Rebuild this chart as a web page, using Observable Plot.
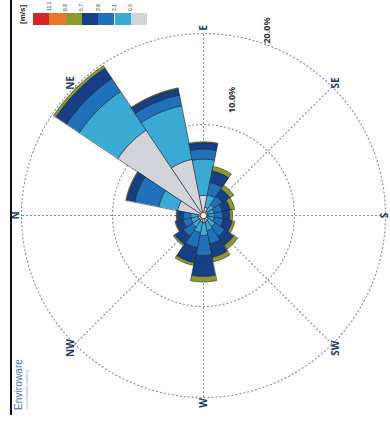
<!DOCTYPE html>
<html>
<head>
<meta charset="utf-8">
<script src="https://cdn.jsdelivr.net/npm/d3@7"></script>
<script src="https://cdn.jsdelivr.net/npm/@observablehq/plot@0.6"></script>
<style>
  html, body { margin: 0; padding: 0; background: #fff; }
  #screen { position: relative; width: 390px; height: 422px; overflow: hidden; background: #fff; }
  /* the sheet is laid out landscape and turned a quarter turn */
  #page {
    position: absolute; left: 0; top: 0; width: 422px; height: 390px;
    transform-origin: 0 0; transform: translate(0px, 422px) rotate(-90deg);
    font-family: "Liberation Sans", Arial, sans-serif; overflow: hidden; background: #fff;
  }
  #page svg { position: absolute; left: 0; top: 0; }
  .rule { position: absolute; left: 7px; top: 10px; width: 420px; height: 2px; background: #111; }
  .brand { position: absolute; left: 12px; top: 13px; font-size: 10px; color: #3b6fb8; letter-spacing: 0.1px; }
  .brand-sub { position: absolute; left: 13px; top: 25px; font-size: 3.5px; color: #8a93a5; }
  .unit { position: absolute; left: 398px; top: 18px; font-size: 8px; font-weight: bold; color: #222; }
  .sw { position: absolute; left: 397px; width: 12px; }
  .swlab { position: absolute; left: 411px; font-size: 5px; line-height: 5px; color: #333; }
</style>
</head>
<body>
<div id="screen"><div id="page"></div></div>
<script>
// Sixteen sectors, frequencies in percent of all hours, one array per wind-speed class
const directions = ["N","NNE","NE","ENE","E","ESE","SE","SSE","S","SSW","SW","WSW","W","WNW","NW","NNW"];
const speedClasses = ["c1","c2","c3","c4","c5","c6","c7"];          // lowest → highest
const classColors  = ["#d3d4da","#3aa9d4","#1f71ba","#173f86","#8e9a2c","#e8772b","#d8232b"];
const classTicks   = ["0.5","2.1","3.6","5.7","8.8","11.1"];
const class1 = [0.6, 2.9, 11.3, 6.3, 2.2, 0.9, 0.6, 0.5, 0.5, 0.5, 0.6, 0.7, 0.8, 0.7, 0.6, 0.6];
const class2 = [0.8, 2.1,  5.1, 6.0, 4.0, 1.4, 0.8, 0.7, 0.7, 0.7, 0.9, 1.0, 1.4, 1.2, 0.9, 0.8];
const class3 = [0.8, 2.7,  1.7, 1.2, 1.1, 1.4, 1.1, 0.9, 0.9, 1.0, 1.3, 1.5, 2.2, 1.7, 1.2, 0.9];
const class4 = [0.7, 0.9,  1.4, 0.7, 0.7, 1.3, 1.0, 0.9, 0.8, 1.0, 1.2, 1.5, 2.3, 1.7, 1.1, 0.8];
const class5 = [0.1, 0.1,  0.3, 0.1, 0.1, 0.5, 0.5, 0.5, 0.3, 0.3, 0.5, 0.5, 0.6, 0.3, 0.2, 0.1];
const class6 = [0.0, 0.0,  0.0, 0.0, 0.0, 0.0, 0.0, 0.0, 0.0, 0.0, 0.0, 0.0, 0.0, 0.0, 0.0, 0.0];
const class7 = [0.0, 0.0,  0.0, 0.0, 0.0, 0.0, 0.0, 0.0, 0.0, 0.0, 0.0, 0.0, 0.0, 0.0, 0.0, 0.0];
const ringValues = [10, 20];
const ringLabels = ["10.0%", "20.0%"];
const compassLabels = ["N","NE","E","SE","S","SW","W","NW"];

const classSeries = [class1, class2, class3, class4, class5, class6, class7];
const W = 422, H = 390, cx = 206, cy = 203, pxPerPct = 9.1;
const rad = d => d * Math.PI / 180;
const polar = (r, b) => ({x: r * Math.sin(rad(b)), y: r * Math.cos(rad(b))});

// stacked wedge outlines
const wedgePts = [];
const halfW = 11.25;
directions.forEach((dir, i) => {
  const b = i * 22.5;
  let r0 = 0;
  classSeries.forEach((series, k) => {
    const v = series[i];
    if (v <= 0) return;
    const r1 = r0 + v, id = dir + "-" + k;
    for (let a = b - halfW; a <= b + halfW + 1e-9; a += halfW / 8) wedgePts.push({id, cls: speedClasses[k], ...polar(r1, a)});
    for (let a = b + halfW; a >= b - halfW - 1e-9; a -= halfW / 8) wedgePts.push({id, cls: speedClasses[k], ...polar(r0, a)});
    r0 = r1;
  });
});

const ringPts = ringValues.flatMap(r => d3.range(0, 361, 2).map(a => ({ring: r, ...polar(r, a)})));
const spokes = compassLabels.map((d, i) => ({d, ...polar(ringValues[ringValues.length - 1], i * 45)}));
// compass letters sit just beyond the outer ring; S is pulled in to stay on the sheet
const compass = compassLabels.map((d, i) => ({d, ...polar(d === "S" ? 19.9 : 20.6, i * 45)}));
// percentage labels sit just outside their ring, east of south-east
const ringText = ringLabels.map((t, i) => ({t, ...polar(ringValues[i] + [3.1, 1.5][i], [104, 109][i])}));

const chart = Plot.plot({
  width: W, height: H, margin: 0,
  x: {domain: [-cx / pxPerPct, (W - cx) / pxPerPct], axis: null},
  y: {domain: [-(H - cy) / pxPerPct, cy / pxPerPct], axis: null},
  color: {domain: speedClasses, range: classColors},
  style: {background: "transparent", overflow: "visible"},
  marks: [
    Plot.line(ringPts, {x: "x", y: "y", z: "ring", stroke: "#7d88a2", strokeWidth: 1.1, strokeDasharray: "1.1,2.9", strokeLinecap: "round"}),
    Plot.link(spokes, {x1: 0, y1: 0, x2: "x", y2: "y", stroke: "#7d88a2", strokeWidth: 1.1, strokeDasharray: "1.1,2.9", strokeLinecap: "round"}),
    Plot.line(wedgePts, {x: "x", y: "y", z: "id", fill: "cls", stroke: "#1c2233", strokeWidth: 0.7, strokeOpacity: 0.85, curve: "linear-closed"}),
    Plot.dot([{x: 0, y: 0}], {x: "x", y: "y", r: 3.2, fill: "#fff", stroke: "#6b2a2a", strokeWidth: 1}),
    Plot.text(compass, {x: "x", y: "y", text: "d", fill: "#25356e", fontSize: 10, fontWeight: "bold"}),
    Plot.text(ringText, {x: "x", y: "y", text: "t", fill: "#2a2f45", fontSize: 9, fontWeight: "bold"})
  ]
});

const page = document.getElementById("page");
page.appendChild(chart);

// frame line, brand and speed legend
const add = (cls, html, style) => { const e = document.createElement("div"); e.className = cls; if (html) e.textContent = html; Object.assign(e.style, style || {}); page.appendChild(e); return e; };
add("rule");
add("brand", "Enviroware");
add("brand-sub", "environmental consulting");
add("unit", "[m/s]");
const swH = 16.3;
classColors.slice().reverse().forEach((c, i) => add("sw", null, {top: (33 + i * swH) + "px", height: swH + "px", background: c}));
classTicks.slice().reverse().forEach((t, i) => add("swlab", t, {top: (33 + (i + 1) * swH - 2.5) + "px"}));
</script>
</body>
</html>
